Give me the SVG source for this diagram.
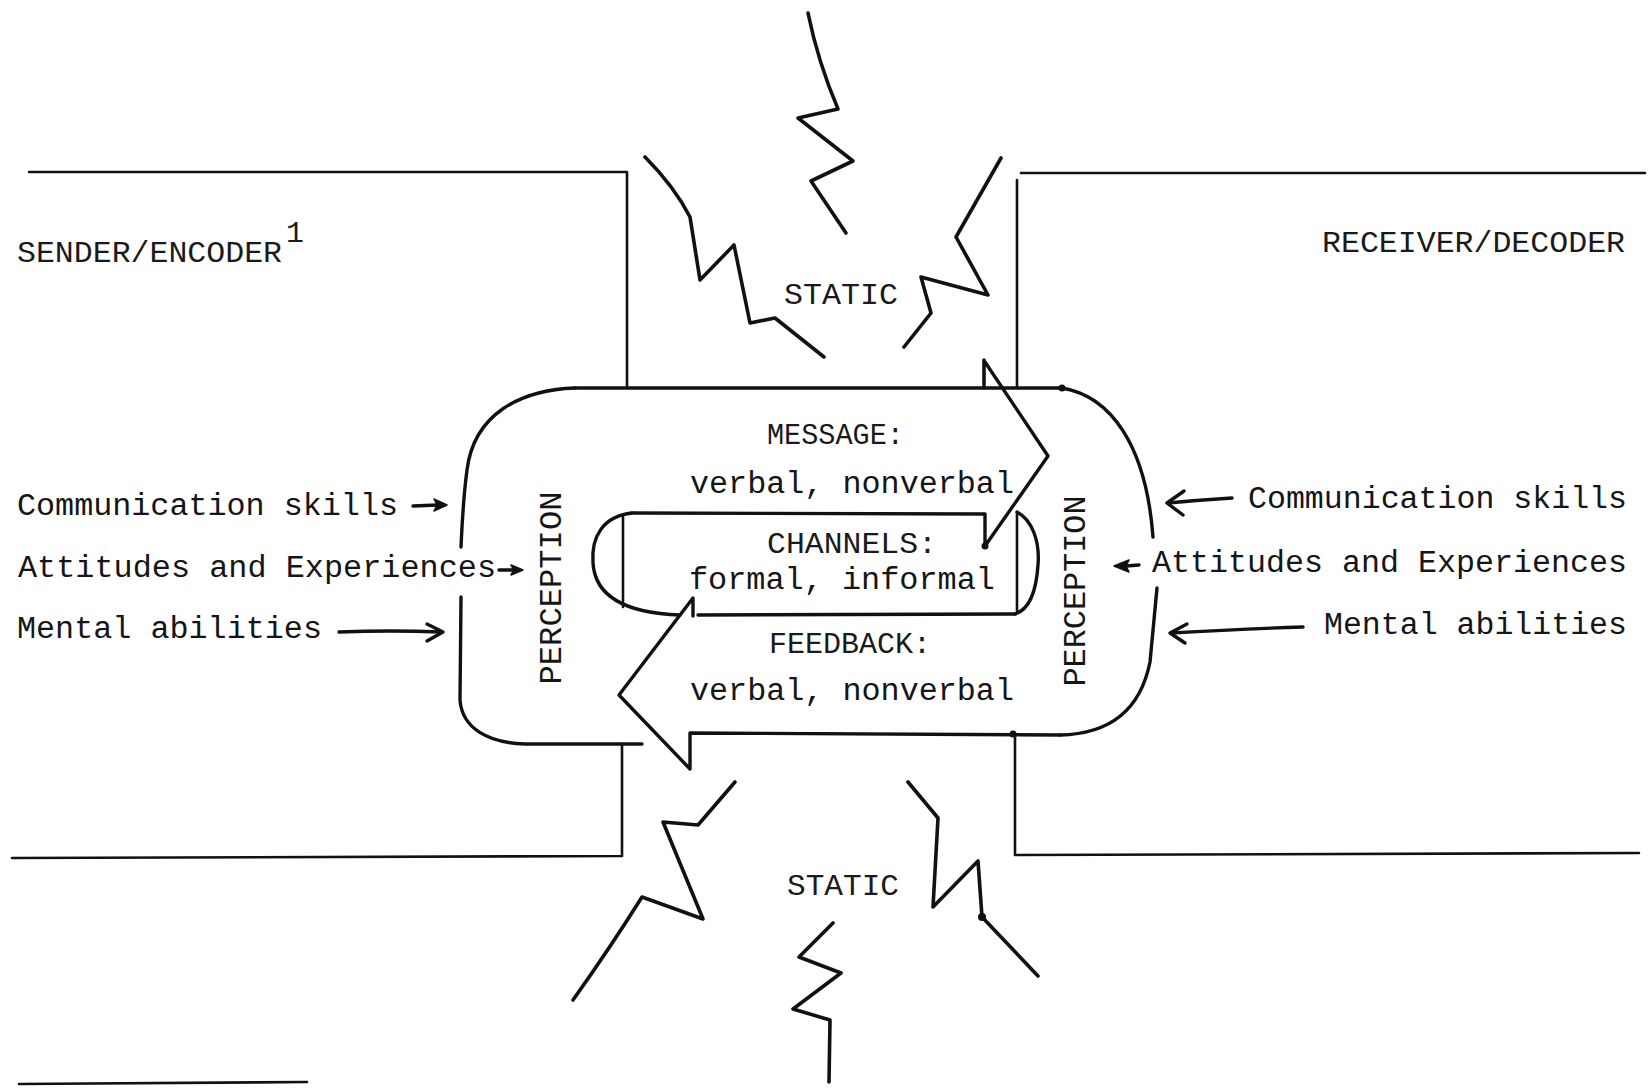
<svg xmlns="http://www.w3.org/2000/svg" width="1651" height="1089" viewBox="0 0 1651 1089">
  <style>
    .ln { fill: none; stroke: #111; stroke-width: 2.6; stroke-linecap: round; stroke-linejoin: round; }
    .thk { fill: none; stroke: #111; stroke-width: 3.4; stroke-linecap: round; stroke-linejoin: round; }
    .zz { fill: none; stroke: #111; stroke-width: 3.6; stroke-linecap: round; stroke-linejoin: round; }
    .head { fill: #111; stroke: #111; stroke-width: 1.5; stroke-linejoin: round; }
    .dot { fill: #111; }
    .t { font-family: "Liberation Mono", "DejaVu Sans Mono", monospace; font-size: 31px; fill: #151515; }
    .cap { font-family: "Liberation Mono", "DejaVu Sans Mono", monospace; font-size: 30px; fill: #1a1a1a; }
  </style>
  <rect width="1651" height="1089" fill="#ffffff"/>

  <!-- Sender / encoder frame -->
  <g id="sender">
    <path class="ln" d="M29 172 L627 172 L627 388"/>
    <path class="ln" d="M12 858 L622 856 L622 744"/>
    <text class="cap" x="17" y="262" textLength="265" lengthAdjust="spacingAndGlyphs">SENDER/ENCODER</text>
    <text class="cap" x="286" y="242" font-size="23">1</text>
  </g>

  <!-- Receiver / decoder frame -->
  <g id="receiver">
    <path class="ln" d="M1021 173 L1645 173"/>
    <path class="ln" d="M1017 180 L1017 388"/>
    <path class="ln" d="M1015 734 L1015 855 L1639 853"/>
    <text class="cap" x="1322" y="252" textLength="303" lengthAdjust="spacingAndGlyphs">RECEIVER/DECODER</text>
  </g>

  <!-- Perception boundary around the exchange -->
  <g id="perception">
    <path class="thk" d="M575 388 L1062 388"/>
    <path class="thk" d="M575 388 C520 390 474 414 467 470 C463 500 462 525 461 547"/>
    <path class="thk" d="M461 597 L460 700 C462 728 488 743 525 744 L642 744"/>
    <path class="thk" d="M1062 388 C1110 396 1146 444 1153 537"/>
    <path class="thk" d="M1157 588 L1150 662 C1140 712 1108 734 1060 735"/>
    <circle class="dot" cx="1062" cy="388" r="3.5"/>
    <text class="t" transform="translate(561 588) rotate(-90)" text-anchor="middle" textLength="193" lengthAdjust="spacingAndGlyphs">PERCEPTION</text>
    <text class="t" transform="translate(1085 591) rotate(-90)" text-anchor="middle" textLength="191" lengthAdjust="spacingAndGlyphs">PERCEPTION</text>
  </g>

  <!-- Message arrow (sender to receiver) -->
  <g id="message">
    <path class="zz" d="M984 360 L984 388" stroke-width="5"/>
    <path class="thk" d="M985 362 L1048 456 L985 546 L985 514 L632 513"/>
    <circle class="dot" cx="985" cy="546" r="3.5"/>
    <text class="cap" x="767" y="444" textLength="137" lengthAdjust="spacingAndGlyphs">MESSAGE:</text>
    <text class="t" x="690" y="493" textLength="324" lengthAdjust="spacingAndGlyphs">verbal, nonverbal</text>
  </g>

  <!-- Channels band -->
  <g id="channels">
    <path class="ln" d="M623 517 L623 607"/>
    <path class="thk" d="M632 513 C603 516 591 537 593 563 C595 596 624 613 680 615"/>
    <path class="thk" d="M698 615 L1015 614"/>
    <path class="ln" d="M1017 513 L1017 612"/>
    <path class="thk" d="M1017 512 C1032 520 1040 541 1038 565 C1036 595 1028 610 1015 614"/>
    <text class="cap" x="767" y="553" font-size="28" textLength="170" lengthAdjust="spacingAndGlyphs">CHANNELS:</text>
    <text class="t" x="689" y="589" font-size="29" textLength="306" lengthAdjust="spacingAndGlyphs">formal, informal</text>
  </g>

  <!-- Feedback arrow (receiver to sender) -->
  <g id="feedback">
    <path class="thk" d="M1060 735 L690 733 L690 769 L619 695 L693 598 L693 616"/>
    <circle class="dot" cx="1013" cy="734" r="3.5"/>
    <text class="cap" x="769" y="653" textLength="162" lengthAdjust="spacingAndGlyphs">FEEDBACK:</text>
    <text class="t" x="690" y="700" textLength="324" lengthAdjust="spacingAndGlyphs">verbal, nonverbal</text>
  </g>

  <!-- Static above the exchange -->
  <g id="static-top">
    <path class="zz" d="M808 13 Q818 62 838 109 L798 118 L853 161 L811 181 L846 233"/>
    <path class="zz" d="M645 157 Q674 186 690 217 L700 280 L734 245 L750 323 L775 318 L824 357"/>
    <path class="zz" d="M1001 158 L956 237 L988 295 L921 277 L931 313 L904 347"/>
    <text class="cap" x="784" y="304" textLength="114" lengthAdjust="spacingAndGlyphs">STATIC</text>
  </g>

  <!-- Static below the exchange -->
  <g id="static-bottom">
    <path class="zz" d="M735 782 L698 825 L663 822 L703 919 L642 897 Q610 948 573 1000"/>
    <path class="zz" d="M833 923 L799 957 L841 973 L793 1009 L830 1020 L829 1082"/>
    <path class="zz" d="M908 782 L938 818 L933 907 L978 861 L982 917 L1038 976"/>
    <circle class="dot" cx="982" cy="917" r="4"/>
    <text class="cap" x="787" y="895" textLength="112" lengthAdjust="spacingAndGlyphs">STATIC</text>
  </g>

  <!-- Personal factors feeding perception -->
  <g id="factors-sender">
    <text class="t" x="17" y="515" textLength="381" lengthAdjust="spacingAndGlyphs">Communication skills</text>
    <text class="t" x="18" y="577" textLength="478" lengthAdjust="spacingAndGlyphs">Attitudes and Experiences</text>
    <text class="t" x="17" y="638" textLength="305" lengthAdjust="spacingAndGlyphs">Mental abilities</text>
  </g>
  <g id="factors-receiver">
    <text class="t" x="1248" y="508" textLength="379" lengthAdjust="spacingAndGlyphs">Communication skills</text>
    <text class="t" x="1152" y="572" textLength="475" lengthAdjust="spacingAndGlyphs">Attitudes and Experiences</text>
    <text class="t" x="1324" y="634" textLength="303" lengthAdjust="spacingAndGlyphs">Mental abilities</text>
  </g>

  <g id="connectors">
    <path class="thk" d="M413 506 L438 505"/>
    <path class="head" d="M434 499 L447 505 L434 511 L437 505 Z"/>
    <path class="thk" d="M499 570 L514 570"/>
    <path class="head" d="M511 565 L523 570 L511 575 L514 570 Z"/>
    <path class="thk" d="M339 632 Q390 630 441 632"/>
    <path class="thk" d="M427 624 L443 632 L427 641"/>
    <path class="thk" d="M1232 498 Q1200 500 1168 503"/>
    <path class="thk" d="M1184 491 L1167 503 L1183 515"/>
    <path class="thk" d="M1139 565 L1126 566"/>
    <path class="head" d="M1129 560 L1114 566 L1129 572 L1126 566 Z"/>
    <path class="thk" d="M1303 627 Q1240 629 1171 633"/>
    <path class="thk" d="M1187 624 L1170 633 L1185 643"/>
  </g>

  <!-- Footnote rule -->
  <path class="ln" d="M19 1084 L307 1082"/>
</svg>
